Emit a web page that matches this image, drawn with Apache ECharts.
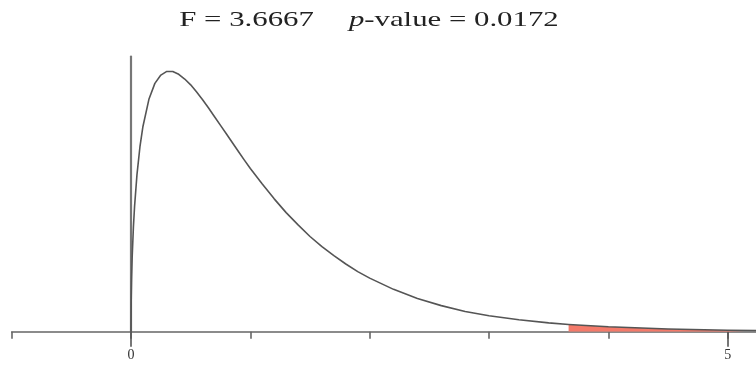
<!DOCTYPE html>
<html>
<head>
<meta charset="utf-8">
<script src="https://cdn.jsdelivr.net/npm/echarts@6/dist/echarts.min.js"></script>
<style>
html,body{margin:0;padding:0;background:#fff;}
#chart{width:756px;height:368px;}
</style>
</head>
<body>
<div id="chart"></div>
<script>
// F statistic and p-value shown in the title
const fStat = 3.6667;
const pValue = 0.0172;

// density curve
const curveX = [0, 0.002, 0.005, 0.01, 0.02, 0.03, 0.05, 0.075, 0.1, 0.15, 0.2, 0.25, 0.3, 0.35, 0.4, 0.45, 0.5, 0.55, 0.6, 0.65, 0.7, 0.75, 0.8, 0.85, 0.9, 0.95, 1.0, 1.1, 1.2, 1.3, 1.4, 1.5, 1.6, 1.7, 1.8, 1.9, 2.0, 2.2, 2.4, 2.6, 2.8, 3.0, 3.25, 3.5, 3.6667, 4.0, 4.5, 5.0, 5.237];
const curveY = [0, 0.094, 0.147, 0.207, 0.288, 0.347, 0.434, 0.511, 0.567, 0.642, 0.686, 0.709, 0.719, 0.719, 0.711, 0.698, 0.682, 0.662, 0.641, 0.618, 0.594, 0.570, 0.546, 0.522, 0.498, 0.474, 0.451, 0.408, 0.367, 0.329, 0.295, 0.263, 0.235, 0.210, 0.187, 0.166, 0.148, 0.117, 0.092, 0.072, 0.056, 0.044, 0.033, 0.0244, 0.0200, 0.0135, 0.0075, 0.0042, 0.0032];

// tick positions and labelled ticks
const tickValues = [-1, 0, 1, 2, 3, 4, 5];
const labelValues = [0, 5];

const xMin = -1, xMax = 5.237, yMax = 0.76;

const curveData = curveX.map((x, i) => [x, curveY[i]]);
const tailData = curveData.filter(d => d[0] >= fStat);

const chart = echarts.init(document.getElementById('chart'), null, {renderer: 'canvas'});
const serif = '"Liberation Serif", "Times New Roman", serif';

chart.setOption({
  animation: false,
  backgroundColor: '#ffffff',
  graphic: [{
    type: 'text',
    x: 369,
    y: 20,
    scaleX: 1.4,
    scaleY: 1,
    style: {
      text: '{n|F = ' + fStat.toFixed(4) + '}{g|}{i|p}{n|-value = ' + pValue.toFixed(4) + '}',
      align: 'center',
      verticalAlign: 'middle',
      rich: {
        n: {fontFamily: serif, fontSize: 22, fill: '#222'},
        i: {fontFamily: serif, fontSize: 22, fontStyle: 'italic', fill: '#222'},
        g: {width: 25}
      }
    }
  }],
  grid: {left: 11.66, right: 0, top: 56.6, bottom: 36.3, containLabel: false},
  xAxis: [{
    type: 'value', min: xMin, max: xMax, interval: 1,
    splitLine: {show: false},
    axisLine: {show: true, onZero: false, lineStyle: {color: '#666', width: 1.6}},
    axisTick: {show: true, length: 7, customValues: tickValues, lineStyle: {color: '#666', width: 1.6}},
    axisLabel: {show: false}
  }, {
    type: 'value', min: xMin, max: xMax, interval: 1, position: 'bottom',
    splitLine: {show: false},
    axisLine: {show: false},
    axisTick: {show: true, length: 15, customValues: labelValues, lineStyle: {color: '#555', width: 1.6}},
    axisLabel: {show: true, customValues: labelValues, margin: 17, fontFamily: serif, fontSize: 14, color: '#333'}
  }],
  yAxis: {
    type: 'value', min: 0, max: yMax,
    splitLine: {show: false},
    axisLine: {show: true, onZero: true, onZeroAxisIndex: 0, lineStyle: {color: '#777', width: 2.2}},
    axisTick: {show: false},
    axisLabel: {show: false}
  },
  series: [{
    type: 'line',
    name: 'tail',
    xAxisIndex: 0,
    data: tailData,
    showSymbol: false,
    smooth: false,
    lineStyle: {width: 0},
    areaStyle: {color: '#f47a6a', opacity: 1},
    z: 1
  }, {
    type: 'line',
    name: 'density',
    xAxisIndex: 0,
    data: curveData,
    showSymbol: false,
    smooth: false,
    lineStyle: {color: '#555', width: 1.6, join: 'round'},
    z: 2
  }]
});
</script>
</body>
</html>
